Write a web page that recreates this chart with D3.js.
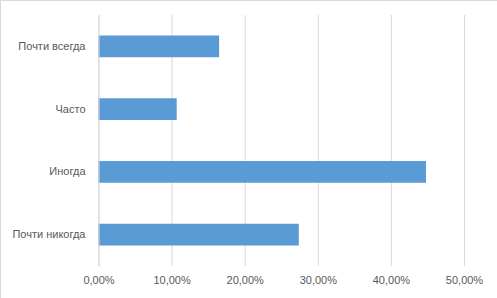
<!DOCTYPE html>
<html><head><meta charset="utf-8">
<script src="https://cdn.jsdelivr.net/npm/d3@7"></script>
<style>html,body{margin:0;padding:0;background:#fff}</style>
</head><body>
<svg id="c" width="497" height="298"></svg>
<script>
const categories = ["Почти всегда", "Часто", "Иногда", "Почти никогда"];
const values = [0.165, 0.107, 0.448, 0.274];
const tickValues = [0, 0.1, 0.2, 0.3, 0.4, 0.5];
const tickLabels = ["0,00%", "10,00%", "20,00%", "30,00%", "40,00%", "50,00%"];

const svg = d3.select("#c");
const W = 497, H = 298;
const m = {left: 98.5, right: 33, top: 15, bottom: 32};
const font = "'Liberation Sans', Arial, sans-serif";

svg.append("rect").attr("x",0).attr("y",0).attr("width",W).attr("height",H).attr("fill","#fff");
svg.append("path").attr("d",`M0.5,${H} V0.5 H${W}`).attr("fill","none").attr("stroke","#d9d9d9");

const x = d3.scaleLinear().domain([0,0.5]).range([m.left, W - m.right]);
const y = d3.scaleBand().domain(categories).range([m.top, H - m.bottom])
  .paddingInner(0.653).paddingOuter(0.3265);

const gx = svg.append("g").attr("transform",`translate(0,${H - m.bottom})`)
  .call(d3.axisBottom(x).tickValues(tickValues).tickSize(-(H - m.bottom - m.top))
    .tickFormat((d,i)=>tickLabels[i]).tickPadding(10));
gx.select(".domain").remove();
gx.selectAll(".tick line").attr("stroke","#d9d9d9").attr("stroke-width",1);
gx.selectAll(".tick text").attr("fill","#595959").attr("font-family",font).attr("font-size","11px");

svg.append("g").selectAll("rect").data(values).join("rect")
  .attr("x", x(0))
  .attr("y", (d,i)=>y(categories[i]))
  .attr("width", d=>x(d)-x(0))
  .attr("height", y.bandwidth())
  .attr("fill","#5b9bd5");

const gy = svg.append("g").attr("transform",`translate(${m.left},0)`)
  .call(d3.axisLeft(y).tickSize(0).tickPadding(13));
gy.select(".domain").attr("stroke","#d9d9d9");
gy.selectAll(".tick text").attr("fill","#595959").attr("font-family",font).attr("font-size","11px");
</script>
</body></html>
